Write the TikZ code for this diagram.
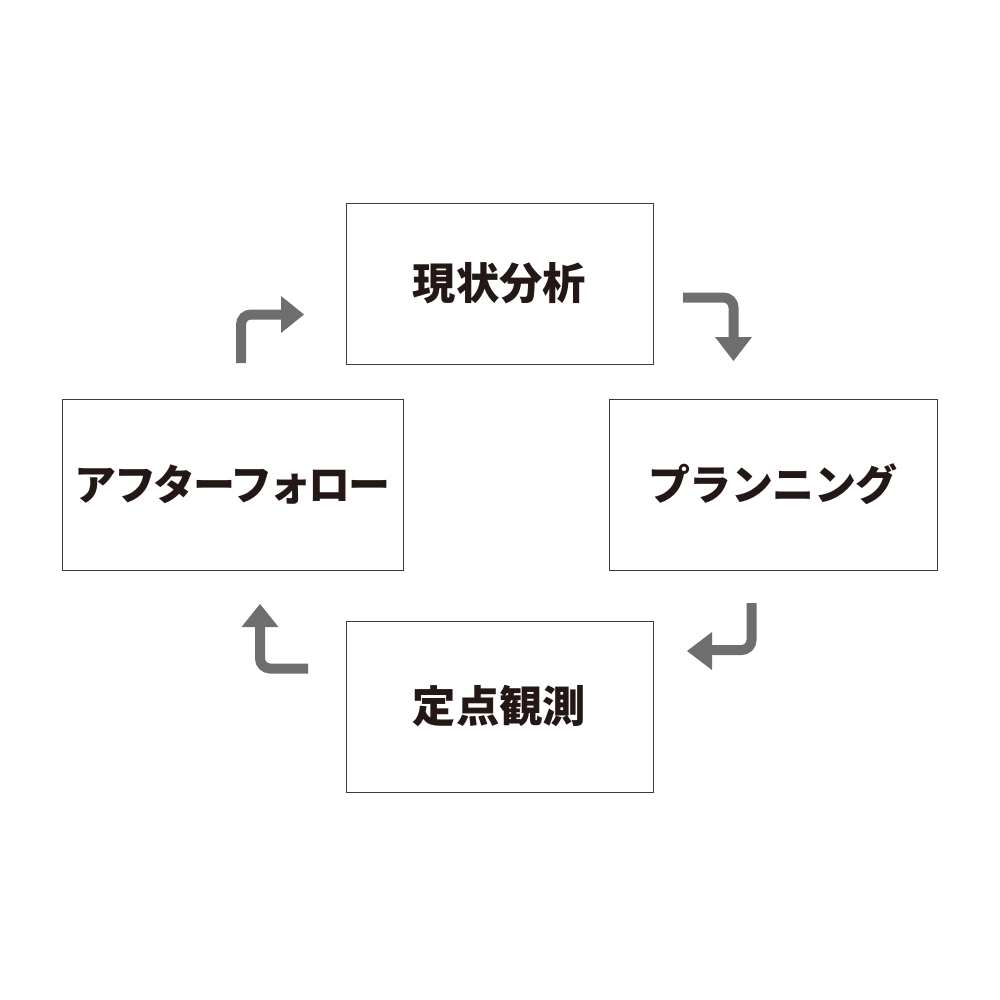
\documentclass[tikz,border=0pt]{standalone}
\usepackage{fontspec}
\newfontfamily\jpfont{Noto Sans CJK JP}
\newfontfamily\jpkata{Noto Sans CJK JP}[LetterSpace=-6]
\newfontfamily\jpkatb{Noto Sans CJK JP}[LetterSpace=-1.5]
\definecolor{txt}{HTML}{231815}
\definecolor{arr}{HTML}{6E6E6E}
\definecolor{frame}{HTML}{3E3A39}
\begin{document}
\begin{tikzpicture}[x=1pt,y=-1pt,
  box/.style={draw=frame,line width=0.9pt,rectangle,inner sep=0pt,text=txt},
  kanji/.style={font=\jpfont\bfseries\fontsize{43.3}{50}\selectfont},
  kataA/.style={font=\jpkata\bfseries\fontsize{42}{50}\selectfont},
  kataB/.style={font=\jpkatb\bfseries\fontsize{42}{50}\selectfont},
  stem/.style={draw=arr,line width=10pt,rounded corners=10pt},
  head/.style={fill=arr}]
\useasboundingbox (0,0) rectangle (1000,1000);
\node[box,kanji,minimum width=307pt,minimum height=161pt] (top) at (499.5,283.5) {現状分析};
\node[box,kataB,minimum width=328pt,minimum height=171pt] (right) at (773,484.5) {プランニング};
\node[box,kataA,minimum width=341pt,minimum height=171pt] (left) at (232.5,484.5) {アフターフォロー};
\node[box,kanji,minimum width=307pt,minimum height=171pt] (bottom) at (499.5,706.5) {定点観測};
% arrow left -> top
\coordinate (a1s) at (241,363);
\coordinate (a1e) at (282,314.5);
\draw[stem] (a1s) |- (a1e);
\fill[head] (281,296) -- (304,314.5) -- (281,333) -- cycle;
% arrow top -> right
\coordinate (a2s) at (683,297.5);
\coordinate (a2e) at (733.5,338);
\draw[stem] (a2s) -| (a2e);
\fill[head] (715,337) -- (752,337) -- (733.5,361) -- cycle;
% arrow right -> bottom
\coordinate (a3s) at (751.5,603);
\coordinate (a3e) at (711,650);
\draw[stem] (a3s) |- (a3e);
\fill[head] (712,632) -- (712,670) -- (687,651) -- cycle;
% arrow bottom -> left
\coordinate (a4s) at (308,668.5);
\coordinate (a4e) at (260,626);
\draw[stem] (a4s) -| (a4e);
\fill[head] (241.5,627) -- (278.5,627) -- (260,604) -- cycle;
\end{tikzpicture}
\end{document}
